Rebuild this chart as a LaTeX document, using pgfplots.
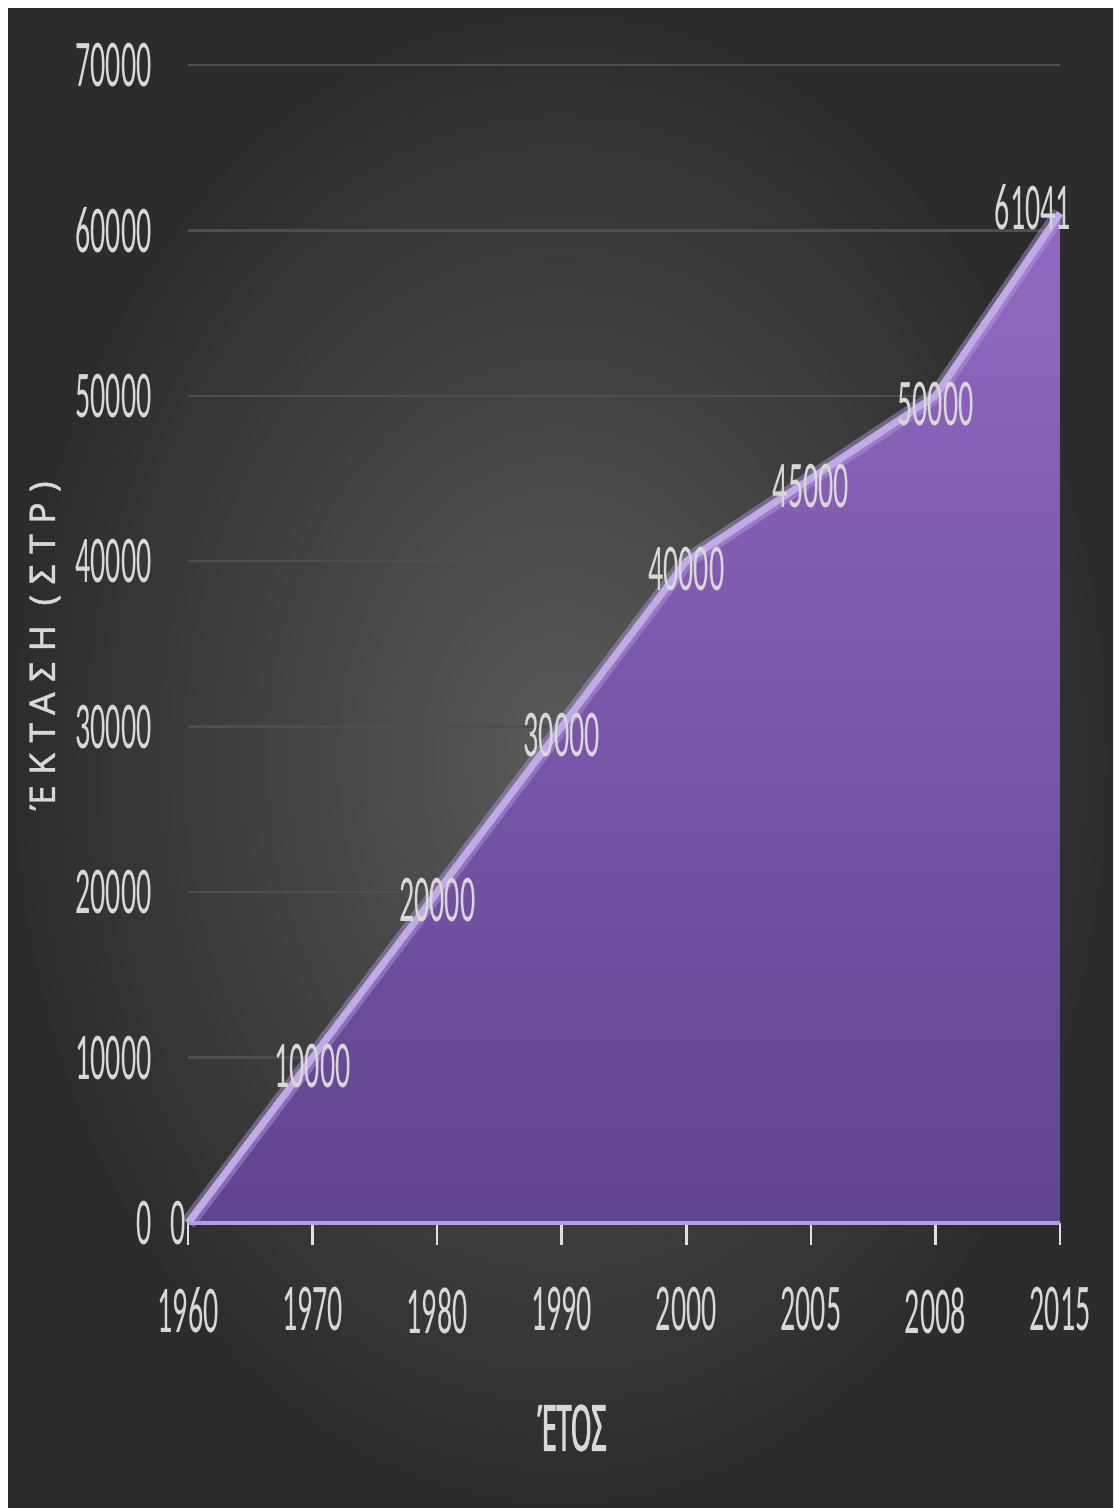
\documentclass[border=0pt]{standalone}
\usepackage{pgfplots}
\pgfplotsset{compat=1.18}
\usepackage{fontspec}
\setmainfont{Carlito}
\newfontfamily\condf{Carlito}[FakeStretch=0.45]
\newfontfamily\condg{Noto Sans}[FakeStretch=0.42, FakeBold=1.5]
\newfontfamily\spacedf{Noto Sans}[LetterSpace=30, FakeBold=1.2]
\definecolor{bgin}{HTML}{5A5A5A}
\definecolor{bgout}{HTML}{2C2C2C}
\definecolor{areatop}{HTML}{9468C2}
\definecolor{areabot}{HTML}{5F4490}
\definecolor{linec}{HTML}{B59CE2}
\definecolor{gridc}{HTML}{4E4E4E}
\definecolor{txt}{HTML}{D8D8D8}
\pgfplotstableread{
x y l
0 0 0
1 10000 10000
2 20000 20000
3 30000 30000
4 40000 40000
5 45000 45000
6 50000 50000
7 61041 61041
}\datatab
\pgfplotstableread{
x y l
1 10000 10000
2 20000 20000
3 30000 30000
4 40000 40000
5 45000 45000
6 50000 50000
}\labtab
\pgfplotstableread{
x y l
7 61041 61041
}\lasttab
\pgfplotstableread{
x y l
0 0 0
}\firsttab
\begin{document}
\begin{tikzpicture}[x=1cm,y=1cm]
\useasboundingbox (0,0) rectangle (11.13,15.08);
\fill[white] (0,0) rectangle (11.13,15.08);
\shade[inner color=bgin, outer color=bgout] (0.08,0) rectangle (11.13,14.99);
\begin{axis}[
  at={(1.88cm,2.85cm)}, anchor=south west,
  scale only axis, width=8.72cm, height=11.58cm,
  xmin=0, xmax=7, ymin=0, ymax=70000,
  clip=false,
  scaled y ticks=false,
  axis x line*=bottom, axis y line*=left,
  axis line style={draw=none},
  xtick={0,...,7},
  xticklabels={1960,1970,1980,1990,2000,2005,2008,2015},
  ytick={0,10000,...,70000},
  yticklabels={0,10000,20000,30000,40000,50000,60000,70000},
  tick align=outside,
  major tick length=0.22cm,
  xtick style={draw=txt!80, line width=0.7pt},
  ytick style={draw=none},
  ymajorgrids,
  grid style={gridc, line width=0.7pt},
  ticklabel style={font=\condf\fontsize{19}{19}\selectfont, text=txt},
  xticklabel style={yshift=-0.3cm},
  yticklabel style={xshift=-0.02cm},
]
\addplot[draw=none, top color=areatop, bottom color=areabot] table[x=x,y=y] {\datatab} \closedcycle;
\addplot[linec, opacity=0.45, line width=0.15cm, line join=round] table[x=x,y=y] {\datatab};
\addplot[linec!85!white, line width=0.07cm, line join=round] table[x=x,y=y] {\datatab};
\addplot[linec, line width=0.045cm] coordinates {(0,0) (7,0)};
\addplot[draw=none, mark=none, point meta=explicit symbolic, nodes near coords,
  every node near coord/.append style={anchor=center, yshift=-0.08cm, font=\condf\fontsize{19}{19}\selectfont, text=txt}]
  table[x=x,y=y,meta=l] {\labtab};
\addplot[draw=none, mark=none, point meta=explicit symbolic, nodes near coords,
  every node near coord/.append style={anchor=center, xshift=-0.27cm, yshift=0.06cm, font=\condf\fontsize{19}{19}\selectfont, text=txt}]
  table[x=x,y=y,meta=l] {\lasttab};
\addplot[draw=none, mark=none, point meta=explicit symbolic, nodes near coords,
  every node near coord/.append style={anchor=center, xshift=-0.1cm, font=\condf\fontsize{19}{19}\selectfont, text=txt}]
  table[x=x,y=y,meta=l] {\firsttab};
\end{axis}
\node[rotate=90, text=txt, font=\spacedf\fontsize{10}{10}\selectfont] at (0.45,8.62) {ΈΚΤΑΣΗ (ΣΤΡ)};
\node[text=txt, font=\condg\fontsize{18}{18}\selectfont] at (5.72,0.80) {ΈΤΟΣ};
\end{tikzpicture}
\end{document}
